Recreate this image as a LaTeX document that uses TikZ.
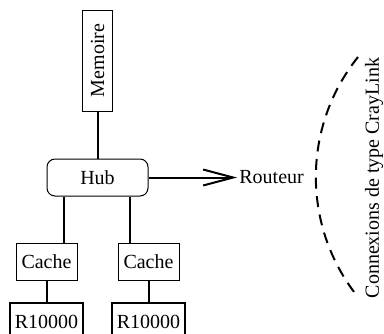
\documentclass[tikz,border=0pt]{standalone}
\usepackage{fontspec}
\setmainfont{Liberation Serif}
\usetikzlibrary{arrows.meta}

\begin{document}
\begin{tikzpicture}[x=0.5pt,y=-0.5pt,
  boite/.style={draw,line width=0.5pt,inner sep=0pt,minimum height=18.5pt},
  lien/.style={line width=1pt}]
\useasboundingbox (0,0) rectangle (384,333);
\node[boite,rotate=90,minimum width=50.5pt,minimum height=15pt] (mem) at (97.5,60.5) {Memoire};
\node[boite,rounded corners=4pt,minimum width=50.5pt] (hub) at (97.5,177.5) {Hub};
\node[inner sep=1pt,anchor=west] (rout) at (237,177.5) {Routeur};
\draw[lien] (mem) -- (hub);
\draw[lien,-{Straight Barb[length=15pt,width=8pt]}] (hub.east) -- (rout.west);
\foreach \x/\xl [count=\i] in {46.5/64,148.5/130} {
    \node[boite,minimum width=30.5pt] (cache\i) at (\x,261.5) {Cache};
    \node[boite,line width=1pt,minimum width=36.5pt] (r\i) at (\x,321.5) {R10000};
    \draw[lien] (\xl,0 |- hub.south) -- (\xl,0 |- cache\i.north);
    \draw[lien] (cache\i) -- (r\i);
}
\draw[line width=1pt,dash pattern=on 5.5pt off 3.8pt] (358,57) arc[start angle=218.7,end angle=141.3,radius=192];
\node[rotate=90] (crl) at (374,178) {Connexions de type CrayLink};
\end{tikzpicture}
\end{document}
